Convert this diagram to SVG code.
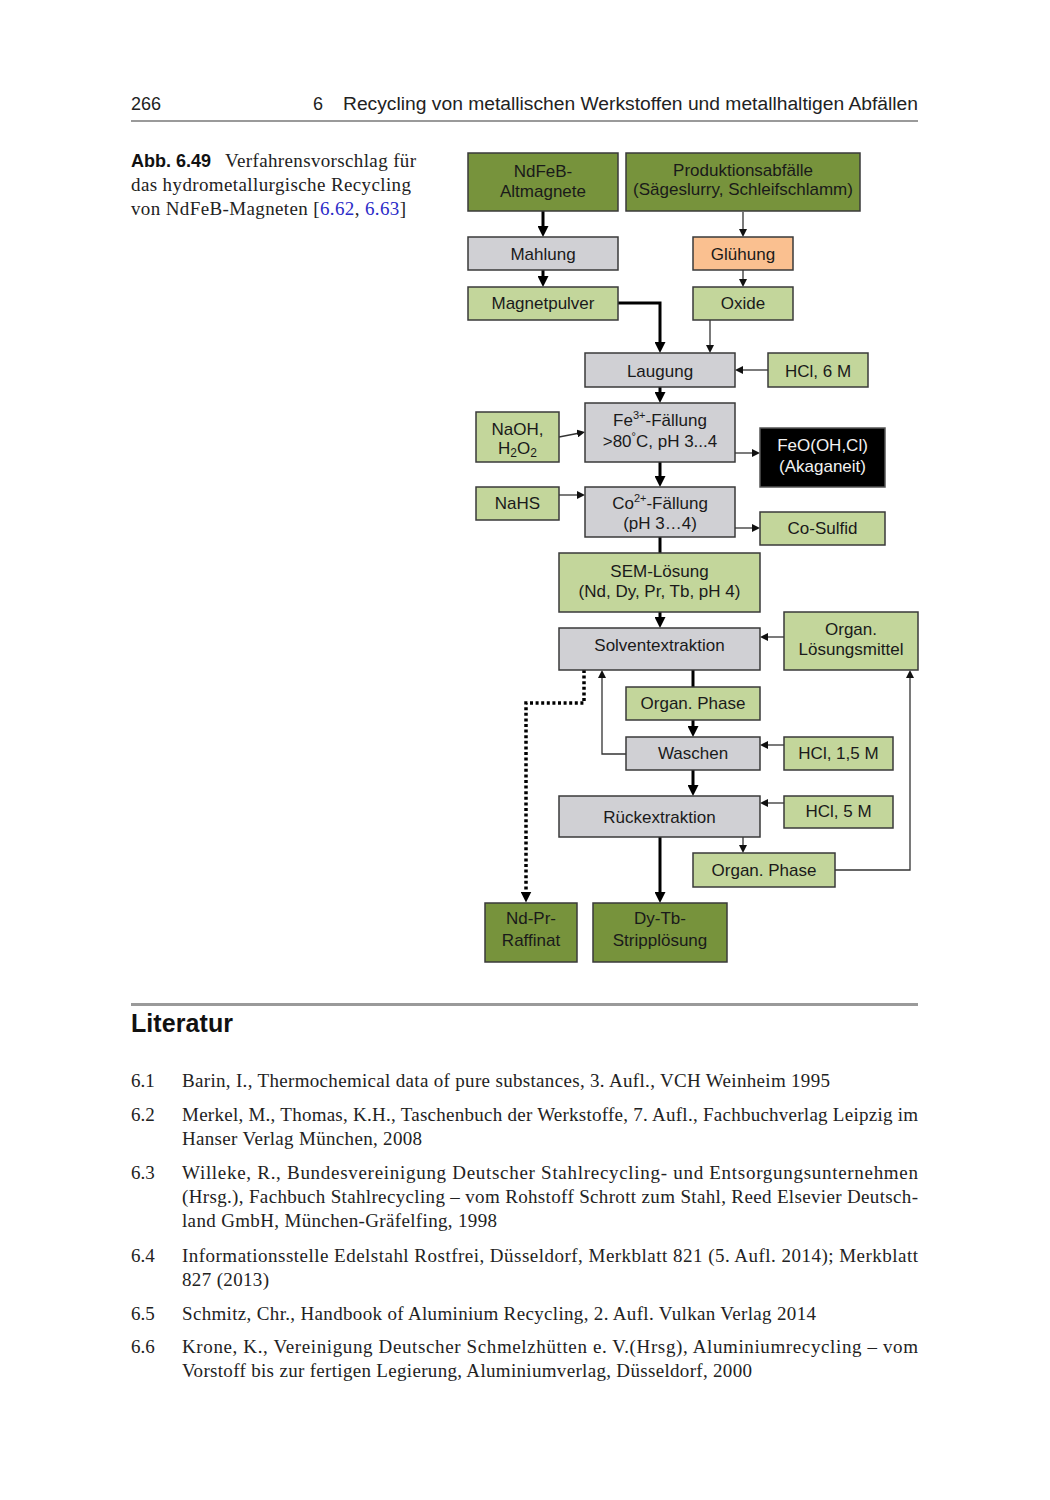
<svg xmlns="http://www.w3.org/2000/svg" width="1050" height="1500" viewBox="0 0 1050 1500">
<style>
.pg{fill:#fff}
.box{stroke:#3a3a3a;stroke-width:1.5}
.dg{fill:#77933c}
.lg{fill:#c3d69b}
.gr{fill:#d0d0d4}
.or{fill:#fac090}
.bk{fill:#000;stroke:#555}
.t{font-family:"Liberation Sans",Arial,sans-serif;font-size:17px;fill:#1a1a1a;text-anchor:middle}
.tw{fill:#f2f2f2}
.thick{fill:none;stroke:#000;stroke-width:3}
.thin{fill:none;stroke:#333;stroke-width:1.3}
.dot{fill:none;stroke:#000;stroke-width:3.5;stroke-dasharray:3 2.6}
.hd{font-family:"Liberation Sans",Arial,sans-serif;font-size:18px;fill:#222}
.sf{font-family:"Liberation Serif","Times New Roman",serif;font-size:19px;fill:#222}
.bd{font-family:"Liberation Sans",Arial,sans-serif;font-weight:bold;fill:#111}
.lnk{fill:#2b2bc8}
</style>
<defs>
<marker id="ah" viewBox="0 0 10 10" markerUnits="userSpaceOnUse" markerWidth="11" markerHeight="11" refX="5" refY="5" orient="auto"><path d="M0,0 L10,5 L0,10 z" fill="#000"/></marker>
<marker id="as" viewBox="0 0 10 10" markerUnits="userSpaceOnUse" markerWidth="8" markerHeight="8" refX="5" refY="5" orient="auto"><path d="M0,0 L10,5 L0,10 z" fill="#111"/></marker>
</defs>
<rect class="pg" width="1050" height="1500"/>

<!-- header -->
<text class="hd" x="131" y="110">266</text>
<text class="hd" x="313" y="110">6</text>
<text class="hd" x="343" y="110" textLength="575" lengthAdjust="spacingAndGlyphs">Recycling von metallischen Werkstoffen und metallhaltigen Abfällen</text>
<rect x="131" y="120" width="787" height="2" fill="#9a9a9a"/>

<!-- caption -->
<text class="bd" x="131" y="167" font-size="18">Abb. 6.49</text>
<text class="sf" x="225" y="167" textLength="191">Verfahrensvorschlag für</text>
<text class="sf" x="131" y="191" textLength="280">das hydrometallurgische Recycling</text>
<text class="sf" x="131" y="215" textLength="275">von NdFeB-Magneten [<tspan class="lnk">6.62</tspan>, <tspan class="lnk">6.63</tspan>]</text>

<!-- connectors -->
<g id="connectors">
<path class="thick" d="M543,211 V231.5" marker-end="url(#ah)"/>
<path class="thin" d="M743,212 V233" marker-end="url(#as)"/>
<path class="thick" d="M543,270 V281.5" marker-end="url(#ah)"/>
<path class="thin" d="M743,270 V283" marker-end="url(#as)"/>
<path class="thick" d="M618,303 H660 V347.5" marker-end="url(#ah)"/>
<path class="thin" d="M710,320 V349" marker-end="url(#as)"/>
<path class="thin" d="M768,370 H739" marker-end="url(#as)"/>
<path class="thick" d="M660,387 V397.5" marker-end="url(#ah)"/>
<path class="thin" d="M559,437 L581.1,432.75" marker-end="url(#as)"/>
<path class="thin" d="M735,453 H756" marker-end="url(#as)"/>
<path class="thick" d="M660,462 V481.5" marker-end="url(#ah)"/>
<path class="thin" d="M559,495 H581" marker-end="url(#as)"/>
<path class="thin" d="M735,528 H756" marker-end="url(#as)"/>
<path class="thick" d="M660,537 V553"/>
<path class="thick" d="M660,612 V622.5" marker-end="url(#ah)"/>
<path class="thin" d="M784,637 H764" marker-end="url(#as)"/>
<path class="thick" d="M693,670 V687"/>
<path class="thick" d="M693,720 V731.5" marker-end="url(#ah)"/>
<path class="thin" d="M626,754 H602 V674" marker-end="url(#as)"/>
<path class="thin" d="M784,745 H764" marker-end="url(#as)"/>
<path class="thick" d="M693,770 V790.5" marker-end="url(#ah)"/>
<path class="thin" d="M784,803 H764" marker-end="url(#as)"/>
<path class="thin" d="M743,837 V849" marker-end="url(#as)"/>
<path class="thin" d="M835,870 H910 V674" marker-end="url(#as)"/>
<path class="thick" d="M660,837 V897.5" marker-end="url(#ah)"/>
<path class="dot" d="M584,670 V703 H526 V897" marker-end="url(#ah)"/>
</g>

<!-- nodes -->
<g id="n-ndfeb"><rect class="box dg" x="468" y="153" width="150" height="58"/><text class="t" x="543" y="177">NdFeB-</text><text class="t" x="543" y="197">Altmagnete</text></g>
<g id="n-prod"><rect class="box dg" x="626" y="153" width="234" height="58"/><text class="t" x="743" y="176">Produktionsabfälle</text><text class="t" x="743" y="195" font-size="15.5">(Sägeslurry, Schleifschlamm)</text></g>
<g id="n-mahlung"><rect class="box gr" x="468" y="237" width="150" height="33"/><text class="t" x="543" y="260">Mahlung</text></g>
<g id="n-gluehung"><rect class="box or" x="693" y="237" width="100" height="33"/><text class="t" x="743" y="260">Glühung</text></g>
<g id="n-magnetpulver"><rect class="box lg" x="468" y="287" width="150" height="33"/><text class="t" x="543" y="309">Magnetpulver</text></g>
<g id="n-oxide"><rect class="box lg" x="693" y="287" width="100" height="33"/><text class="t" x="743" y="309">Oxide</text></g>
<g id="n-laugung"><rect class="box gr" x="585" y="353" width="150" height="34"/><text class="t" x="660" y="377">Laugung</text></g>
<g id="n-hcl6"><rect class="box lg" x="768" y="353" width="100" height="34"/><text class="t" x="818" y="377">HCl, 6 M</text></g>
<g id="n-naoh"><rect class="box lg" x="476" y="412" width="83" height="50"/><text class="t" x="517.5" y="435">NaOH,</text><text class="t" x="517.5" y="454">H<tspan font-size="12" dy="3">2</tspan><tspan dy="-3">O</tspan><tspan font-size="12" dy="3">2</tspan></text></g>
<g id="n-fe"><rect class="box gr" x="585" y="403" width="150" height="59"/><text class="t" x="660" y="426">Fe<tspan font-size="11" dy="-7">3+</tspan><tspan dy="7">-Fällung</tspan></text><text class="t" x="660" y="447">&gt;80<tspan font-size="11" dy="-7">°</tspan><tspan dy="7">C, pH 3...4</tspan></text></g>
<g id="n-feo"><rect class="box bk" x="760" y="428" width="125" height="59"/><text class="t tw" x="822.5" y="451">FeO(OH,Cl)</text><text class="t tw" x="822.5" y="472">(Akaganeit)</text></g>
<g id="n-nahs"><rect class="box lg" x="476" y="487" width="83" height="33"/><text class="t" x="517.5" y="509">NaHS</text></g>
<g id="n-co"><rect class="box gr" x="585" y="487" width="150" height="50"/><text class="t" x="660" y="509">Co<tspan font-size="11" dy="-7">2+</tspan><tspan dy="7">-Fällung</tspan></text><text class="t" x="660" y="529">(pH 3…4)</text></g>
<g id="n-cosulfid"><rect class="box lg" x="760" y="512" width="125" height="33"/><text class="t" x="822.5" y="534">Co-Sulfid</text></g>
<g id="n-sem"><rect class="box lg" x="559" y="553" width="201" height="59"/><text class="t" x="659.5" y="577">SEM-Lösung</text><text class="t" x="659.5" y="597">(Nd, Dy, Pr, Tb, pH 4)</text></g>
<g id="n-solvent"><rect class="box gr" x="559" y="628" width="201" height="42"/><text class="t" x="659.5" y="651">Solventextraktion</text></g>
<g id="n-orglm"><rect class="box lg" x="784" y="612" width="134" height="58"/><text class="t" x="851" y="635">Organ.</text><text class="t" x="851" y="655">Lösungsmittel</text></g>
<g id="n-orgph1"><rect class="box lg" x="626" y="687" width="134" height="33"/><text class="t" x="693" y="709">Organ. Phase</text></g>
<g id="n-waschen"><rect class="box gr" x="626" y="737" width="134" height="33"/><text class="t" x="693" y="759">Waschen</text></g>
<g id="n-hcl15"><rect class="box lg" x="784" y="737" width="109" height="33"/><text class="t" x="838.5" y="759">HCl, 1,5 M</text></g>
<g id="n-rueck"><rect class="box gr" x="559" y="796" width="201" height="41"/><text class="t" x="659.5" y="823">Rückextraktion</text></g>
<g id="n-hcl5"><rect class="box lg" x="784" y="796" width="109" height="32"/><text class="t" x="838.5" y="817">HCl, 5 M</text></g>
<g id="n-orgph2"><rect class="box lg" x="693" y="853" width="142" height="34"/><text class="t" x="764" y="876">Organ. Phase</text></g>
<g id="n-ndpr"><rect class="box dg" x="485" y="903" width="92" height="59"/><text class="t" x="531" y="924">Nd-Pr-</text><text class="t" x="531" y="946">Raffinat</text></g>
<g id="n-dytb"><rect class="box dg" x="593" y="903" width="134" height="59"/><text class="t" x="660" y="924">Dy-Tb-</text><text class="t" x="660" y="946">Stripplösung</text></g>

<!-- literature -->
<rect x="131" y="1003" width="787" height="3" fill="#9a9a9a"/>
<text class="bd" x="131" y="1032" font-size="25" textLength="102">Literatur</text>
<g class="sf">
<text x="131" y="1087">6.1</text>
<text x="182" y="1087" textLength="648">Barin, I., Thermochemical data of pure substances, 3. Aufl., VCH Weinheim 1995</text>
<text x="131" y="1121">6.2</text>
<text x="182" y="1121" textLength="736">Merkel, M., Thomas, K.H., Taschenbuch der Werkstoffe, 7. Aufl., Fachbuchverlag Leipzig im</text>
<text x="182" y="1145" textLength="240">Hanser Verlag München, 2008</text>
<text x="131" y="1179">6.3</text>
<text x="182" y="1179" textLength="736">Willeke, R., Bundesvereinigung Deutscher Stahlrecycling- und Entsorgungsunternehmen</text>
<text x="182" y="1203" textLength="736">(Hrsg.), Fachbuch Stahlrecycling – vom Rohstoff Schrott zum Stahl, Reed Elsevier Deutsch-</text>
<text x="182" y="1227" textLength="315">land GmbH, München-Gräfelfing, 1998</text>
<text x="131" y="1262">6.4</text>
<text x="182" y="1262" textLength="736">Informationsstelle Edelstahl Rostfrei, Düsseldorf, Merkblatt 821 (5. Aufl. 2014); Merkblatt</text>
<text x="182" y="1286" textLength="87">827 (2013)</text>
<text x="131" y="1320">6.5</text>
<text x="182" y="1320" textLength="634">Schmitz, Chr., Handbook of Aluminium Recycling, 2. Aufl. Vulkan Verlag 2014</text>
<text x="131" y="1353">6.6</text>
<text x="182" y="1353" textLength="736">Krone, K., Vereinigung Deutscher Schmelzhütten e. V.(Hrsg), Aluminiumrecycling – vom</text>
<text x="182" y="1377" textLength="570">Vorstoff bis zur fertigen Legierung, Aluminiumverlag, Düsseldorf, 2000</text>
</g>
</svg>
